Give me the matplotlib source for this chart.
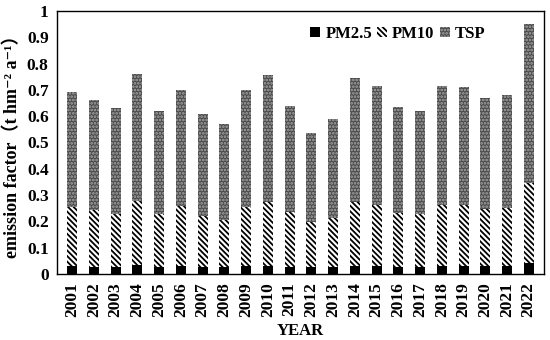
import matplotlib
matplotlib.use("Agg")
import matplotlib.pyplot as plt
import numpy as np

plt.rcParams['font.family'] = ['Liberation Serif', 'Noto Sans CJK SC', 'DejaVu Serif']
plt.rcParams['font.weight'] = 'bold'
plt.rcParams['hatch.linewidth'] = 1.3

years = [str(y) for y in range(2001, 2023)]
tsp = [0.69, 0.66, 0.63, 0.76, 0.62, 0.70, 0.61, 0.57, 0.70, 0.755, 0.64,
       0.535, 0.59, 0.745, 0.715, 0.635, 0.62, 0.715, 0.71, 0.67, 0.68, 0.95]
pm10 = [0.255, 0.243, 0.23, 0.278, 0.228, 0.258, 0.222, 0.207, 0.255, 0.275, 0.235,
        0.197, 0.214, 0.272, 0.261, 0.233, 0.228, 0.262, 0.261, 0.246, 0.25, 0.347]
pm25 = [0.03, 0.028, 0.028, 0.034, 0.027, 0.03, 0.026, 0.025, 0.03, 0.032, 0.028,
        0.025, 0.026, 0.031, 0.03, 0.028, 0.027, 0.031, 0.03, 0.029, 0.029, 0.043]

fig = plt.figure(figsize=(5.5, 3.4), dpi=100)
ax = fig.add_axes([0.1036, 0.194, 0.8854, 0.774])

x = np.arange(len(years))
w = 0.46
# bars overlap: TSP behind, PM10 in front, PM2.5 on top
ax.bar(x, tsp, w, facecolor='#4a4a4a', edgecolor='#a8a8a8', hatch='.....',
       linewidth=0, label='TSP', zorder=2)
ax.bar(x, pm10, w, facecolor='white', edgecolor='black', hatch='\\\\\\\\\\\\',
       linewidth=0, label='PM10', zorder=3)
ax.bar(x, pm25, w, facecolor='black', edgecolor='black', linewidth=0,
       label='PM2.5', zorder=4)

ax.set_xlim(-0.7, len(years) - 0.3)
ax.set_ylim(0, 1)
ax.set_yticks(np.arange(0, 1.01, 0.1))
ax.set_yticklabels(['0'] + ['%.1f' % v for v in np.arange(0.1, 0.95, 0.1)] + ['1'])
ax.set_xticks(x)
ax.set_xticklabels(years, rotation=90)
ax.tick_params(length=0, labelsize=12.5, pad=6)
for s in ax.spines.values():
    s.set_linewidth(1.0)

ax.set_xlabel('YEAR', fontsize=12, fontweight='bold', labelpad=4)
ax.set_ylabel('emission factor\uff08t hm\u207b\u00b2 a\u207b\u00b9\uff09', fontsize=13,
              fontweight='bold', labelpad=4)

h, l = ax.get_legend_handles_labels()
ax.legend(h[::-1], l[::-1], loc='upper center', bbox_to_anchor=(0.70, 1.0), ncol=3,
          frameon=False, handlelength=0.6, handleheight=0.6,
          handletextpad=0.3, columnspacing=0.3,
          prop={'weight': 'bold', 'size': 12})

fig.savefig('out.png', dpi=100)
